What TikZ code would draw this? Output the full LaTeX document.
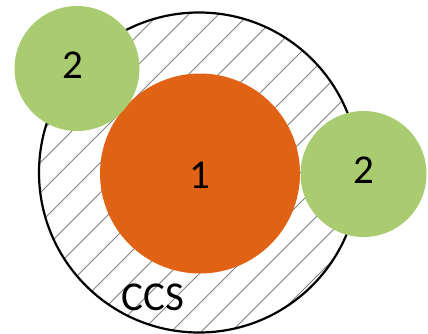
\documentclass[tikz,border=0pt]{standalone}
\usepackage{fontspec}
\setmainfont{Carlito}
\definecolor{orangeA}{RGB}{224,98,20}
\definecolor{greenA}{RGB}{169,204,112}
\definecolor{hatchgray}{RGB}{128,128,128}
\begin{document}
\begin{tikzpicture}[x=1pt,y=-1pt,
  lbl/.style={font=\fontsize{41}{43}\selectfont, inner sep=0pt},
  hatchline/.style={hatchgray, line width=1pt},
  ccsring/.style={draw=black, line width=2.2pt},
  core/.style={fill=orangeA},
  satellite/.style={fill=greenA}]
\useasboundingbox (0,0) rectangle (428,333);
% hatched CCS circle
\begin{scope}
  \clip (199,172.5) circle[radius=160];
  \foreach \k in {0,...,24} {
    \pgfmathsetmacro{\c}{23+30*\k}
    \draw[hatchline] ({\c-0},0) -- ({\c-340},340);
  }
\end{scope}
\draw[ccsring] (199,172.5) circle[radius=160];
\fill[core] (200,173.5) circle[radius=100];
\fill[satellite] (77,68.5) circle[radius=62.5];
\fill[satellite] (363.5,174) circle[radius=63];
\node[lbl] (one) at (200,175) {1};
\node[lbl] (twoa) at (72.5,65.5) {2};
\node[lbl] (twob) at (364,170.5) {2};
\node[lbl] (ccs) at (153,297.5) {CCS};
\end{tikzpicture}
\end{document}
